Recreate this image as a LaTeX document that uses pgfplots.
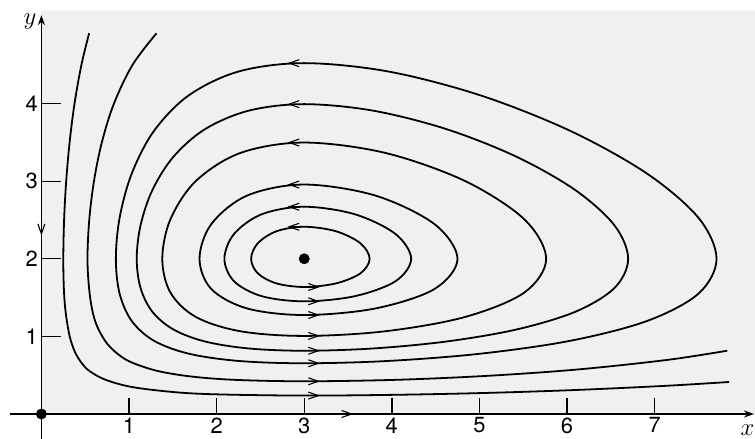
\documentclass[border=0pt]{standalone}
\usepackage{pgfplots}
\pgfplotsset{compat=1.18}
\usepackage{fontspec}
\setmainfont{TeX Gyre Heros}
\usetikzlibrary{arrows.meta}
\begin{document}
\begin{tikzpicture}
\begin{axis}[
  scale only axis, width=755bp, height=439bp,
  xmin=-0.4726, xmax=8.146, ymin=-0.322, ymax=5.335,
  axis lines=middle, axis line style={draw=none},
  major tick length=0pt, tick style={draw=none},
  xtick={1,2,3,4,5,6,7}, ytick={1,2,3,4},
  ticklabel style={font=\fontsize{22}{22}\selectfont},
  /pgf/number format/assume math mode=true,
  clip=false,
  orbit/.style={black, line width=1.8pt, smooth cycle, tension=0.55},
  open/.style={black, line width=1.8pt, smooth, tension=0.55},
]
% light background of the scanned quadrant
\addplot[draw=none, fill=black!6] coordinates {(0,0) (8.146,0) (8.146,5.2) (0,5.2) (0,0)};

% closed orbits
\addplot[orbit] coordinates {(3.747,2) (3.642,2.2) (3.362,2.355) (3,2.413) (2.684,2.355) (2.470,2.2) (2.394,2) (2.470,1.813) (2.684,1.683) (3,1.637) (3.362,1.683) (3.642,1.813)};
\addplot[orbit] coordinates {(4.221,2) (4.042,2.32) (3.578,2.574) (3,2.671) (2.515,2.574) (2.199,2.32) (2.089,2) (2.199,1.711) (2.515,1.5185) (3,1.452) (3.578,1.5185) (4.042,1.711)};
\addplot[orbit] coordinates {(4.750,2) (4.486,2.448) (3.812,2.815) (3,2.957) (2.349,2.815) (1.940,2.448) (1.805,2) (1.940,1.61) (2.349,1.36) (3,1.2756) (3.812,1.36) (4.486,1.61)};
\addplot[orbit] coordinates {(5.762,2) (5.512,2.5095) (4.835,3.003) (3.924,3.365) (3,3.498) (2.274,3.365) (1.764,3.003) (1.473,2.5095) (1.380,2) (1.473,1.5645) (1.764,1.25) (2.274,1.066) (3,1.0063) (3.924,1.066) (4.835,1.25) (5.512,1.5645)};
\addplot[orbit] coordinates {(6.698,2) (6.541,2.432) (6.094,2.886) (5.422,3.316) (4.618,3.673) (3.782,3.91) (3,3.993) (2.370,3.91) (1.871,3.673) (1.508,3.316) (1.267,2.886) (1.132,2.432) (1.088,2) (1.132,1.6228) (1.267,1.3171) (1.508,1.0887) (1.871,0.9335) (2.370,0.8443) (3,0.8152) (3.782,0.8443) (4.618,0.9335) (5.422,1.0887) (6.094,1.3171) (6.541,1.6228)};
\addplot[orbit] coordinates {(7.707,2) (7.500,2.5293) (6.914,3.0974) (6.042,3.646) (5.012,4.106) (3.960,4.4135) (3,4.5213) (2.251,4.4135) (1.682,4.106) (1.284,3.646) (1.031,3.0974) (0.893,2.5293) (0.850,2) (0.893,1.5505) (1.031,1.1989) (1.284,0.9445) (1.682,0.7773) (2.251,0.6838) (3,0.6538) (3.960,0.6838) (5.012,0.7773) (6.042,0.9445) (6.914,1.1989) (7.500,1.5505)};

% open trajectories
\addplot[open] coordinates {(1.314,4.906) (1.041,4.5) (0.828,4.0) (0.690,3.5) (0.600,3.0) (0.546,2.5) (0.526,2.0) (0.546,1.6) (0.588,1.3) (0.648,1.1) (0.755,0.9) (0.899,0.75) (1.05,0.655) (1.3425,0.5505) (1.7325,0.4804) (2.22,0.4396) (3,0.4217) (4.035,0.4401) (5.07,0.4906) (6.105,0.5723) (7.14,0.6966) (7.83,0.816)};
\addplot[open] coordinates {(0.545,4.906) (0.457,4.5) (0.378,4.0) (0.322,3.5) (0.283,3.0) (0.259,2.5) (0.25,2.0) (0.257,1.6) (0.278,1.3) (0.323,1.0) (0.383,0.8) (0.464,0.65) (0.554,0.55) (0.735,0.44) (1.04,0.3466) (1.535,0.2803) (2.03,0.2525) (3,0.2374) (4.035,0.2474) (5.07,0.2714) (6.105,0.3098) (7.14,0.3641) (7.85,0.4127)};

% axes
\addplot[black, line width=1.6pt, -{Stealth[length=10pt,width=7pt]}] coordinates {(-0.36,0) (8.135,0)};
\addplot[black, line width=1.6pt, -{Stealth[length=10pt,width=7pt]}] coordinates {(0,-0.33) (0,5.14)};

% tick marks
\addplot[black, line width=1.4pt, unbounded coords=jump] coordinates {(1,0) (1,0.21) (nan,nan) (2,0) (2,0.21) (nan,nan) (3,0) (3,0.21) (nan,nan) (4,0) (4,0.21) (nan,nan) (5,0) (5,0.21) (nan,nan) (6,0) (6,0.21) (nan,nan) (7,0) (7,0.21)};
\addplot[black, line width=1.4pt, unbounded coords=jump] coordinates {(0,1) (0.22,1) (nan,nan) (0,2) (0.22,2) (nan,nan) (0,3) (0.22,3) (nan,nan) (0,4) (0.22,4)};

% direction arrows on the trajectories
\addplot[black, line width=1.1pt, quiver={u=\thisrow{u}, v=\thisrow{v}}, -{Straight Barb[length=10pt,width=7pt]}]
  table[row sep=\\] {x y u v \\ 2.98 2.413 -0.17 0 \\ 2.98 2.671 -0.17 0 \\ 2.98 2.957 -0.17 0 \\ 2.98 3.498 -0.17 0 \\ 2.98 3.993 -0.17 0 \\ 2.98 4.521 -0.17 0 \\
  3.0 1.637 0.18 0 \\ 3.0 1.452 0.18 0 \\ 3.0 1.2756 0.18 0 \\ 3.0 1.0063 0.18 0 \\ 3.0 0.8152 0.18 0 \\ 3.0 0.6538 0.18 0 \\ 3.0 0.4217 0.18 0 \\ 3.0 0.2374 0.18 0 \\
  0 2.5 0 -0.2 \\ 3.38 0 0.18 0 \\};

% equilibrium points
\addplot[only marks, mark=*, mark size=5.2bp, black] coordinates {(0,0) (3,2)};

\node[font=\fontsize{24}{24}\selectfont] at (axis cs:-0.13,5.06) {$y$};
\node[font=\fontsize{24}{24}\selectfont] at (axis cs:8.06,-0.21) {$x$};
\end{axis}
\pgfresetboundingbox
\path[use as bounding box] (current axis.south west) rectangle (current axis.north east);
\end{tikzpicture}
\end{document}
